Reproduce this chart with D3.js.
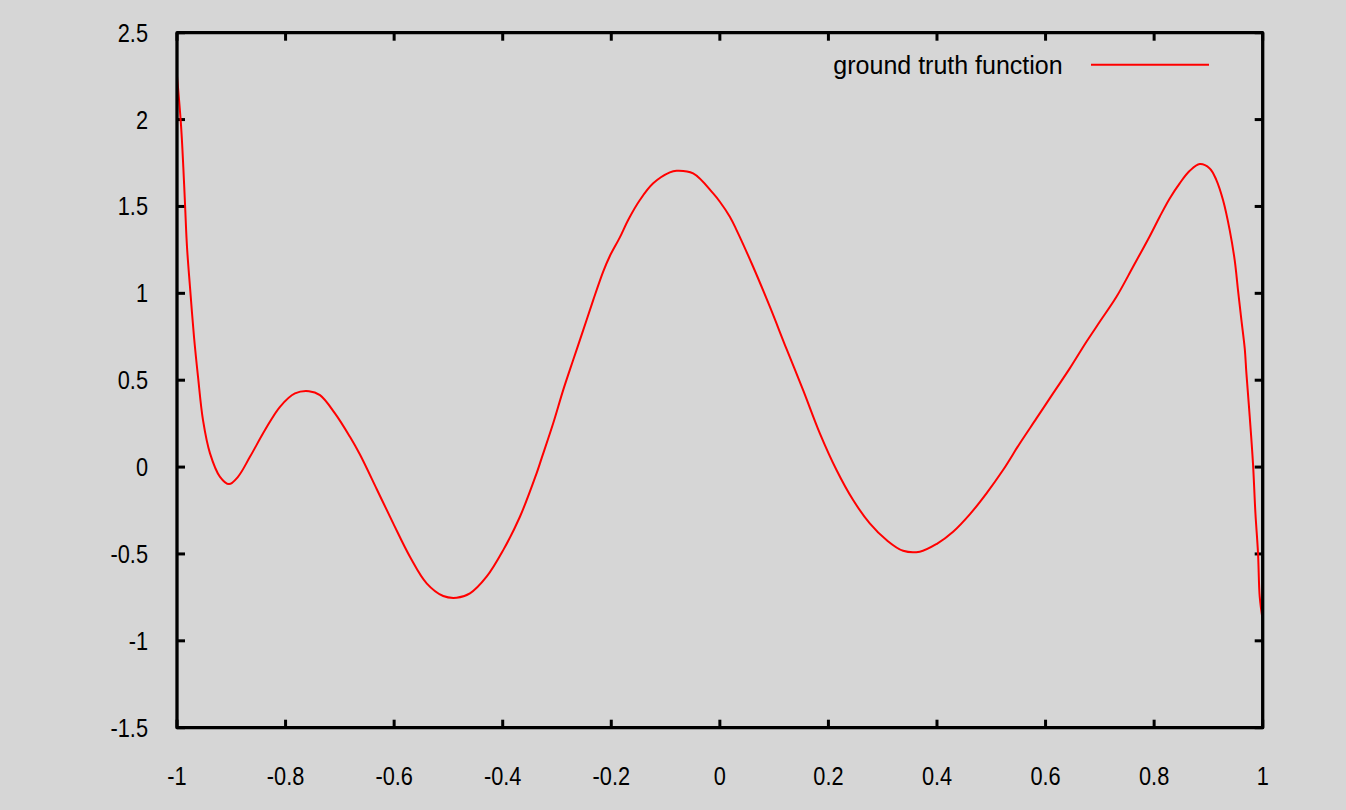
<!DOCTYPE html>
<html>
<head>
<meta charset="utf-8">
<script src="https://cdn.jsdelivr.net/npm/d3@7"></script>
<style>
  html, body { margin: 0; padding: 0; background: #d6d6d6; }
  svg { display: block; }
  text { font-family: "Liberation Sans", Arial, sans-serif; fill: #000; }
</style>
</head>
<body>
<svg id="chart" width="1346" height="810"></svg>
<script>
// ---- data ----
const xValues = [
  -1.0, -0.9926, -0.9884, -0.9853, -0.9816, -0.9761, -0.9687, -0.9613, -0.9521, -0.9392,
  -0.9208, -0.9042, -0.8877, -0.8656, -0.8379, -0.8103, -0.7827, -0.7569, -0.7366, -0.7090,
  -0.6814, -0.6630, -0.6322, -0.6017, -0.5709, -0.5401, -0.5096, -0.4849, -0.4604, -0.4297,
  -0.3991, -0.3683, -0.3376, -0.3284, -0.3070, -0.2886, -0.2702, -0.2517, -0.2333, -0.2149,
  -0.2026, -0.1842, -0.1689, -0.1473, -0.1228, -0.0921, -0.0797, -0.0492, -0.0123, 0.0,
  0.0184, 0.0308, 0.0613, 0.0921, 0.1228, 0.1534, 0.1842, 0.2149, 0.2455, 0.2762,
  0.3070, 0.3376, 0.3683, 0.3991, 0.4297, 0.4604, 0.4912, 0.5217, 0.5525, 0.5832,
  0.6138, 0.6446, 0.6753, 0.6998, 0.7306, 0.7612, 0.7919, 0.8103, 0.8287, 0.8471,
  0.8656, 0.8840, 0.9024, 0.9147, 0.9269, 0.9392, 0.9484, 0.9545, 0.9608, 0.9669,
  0.9700, 0.9761, 0.9821, 0.9866, 0.9914, 0.9945, 1.0
];
const yValues = [
  2.25, 1.968, 1.728, 1.518, 1.268, 1.038, 0.750, 0.520, 0.270, 0.079,
  -0.056, -0.098, -0.056, 0.059, 0.213, 0.347, 0.424, 0.437, 0.414, 0.309,
  0.174, 0.072, -0.126, -0.324, -0.516, -0.669, -0.742, -0.752, -0.727, -0.631,
  -0.478, -0.286, -0.036, 0.050, 0.252, 0.443, 0.616, 0.788, 0.961, 1.125,
  1.215, 1.322, 1.422, 1.537, 1.633, 1.696, 1.705, 1.690, 1.575, 1.527,
  1.441, 1.364, 1.153, 0.923, 0.680, 0.443, 0.194, -0.017, -0.190, -0.324,
  -0.420, -0.482, -0.487, -0.443, -0.372, -0.272, -0.151, -0.017, 0.136, 0.280,
  0.424, 0.568, 0.721, 0.836, 0.980, 1.153, 1.329, 1.441, 1.546, 1.633,
  1.705, 1.744, 1.719, 1.652, 1.537, 1.364, 1.191, 1.019, 0.846, 0.683,
  0.539, 0.290, 0.021, -0.266, -0.497, -0.746, -0.881
];
const xTicks = [-1, -0.8, -0.6, -0.4, -0.2, 0, 0.2, 0.4, 0.6, 0.8, 1];
const xTickLabels = ["-1", "-0.8", "-0.6", "-0.4", "-0.2", "0", "0.2", "0.4", "0.6", "0.8", "1"];
const yTicks = [-1.5, -1, -0.5, 0, 0.5, 1, 1.5, 2, 2.5];
const yTickLabels = ["-1.5", "-1", "-0.5", "0", "0.5", "1", "1.5", "2", "2.5"];
const seriesName = "ground truth function";

// ---- layout ----
const pLeft = 177, pRight = 1262.7, pTop = 32.7, pBottom = 727.7;
const svg = d3.select("#chart");

const x = d3.scaleLinear().domain([-1, 1]).range([pLeft, pRight]);
const y = d3.scaleLinear().domain([-1.5, 2.5]).range([pBottom, pTop]);

const tickLen = 8;
const lab = 0.87; // horizontal squeeze of tick label glyphs

// ticks (all four sides)
const tg = svg.append("g").attr("stroke", "#000").attr("stroke-width", 3);
xTicks.forEach(t => {
  tg.append("line").attr("x1", x(t)).attr("x2", x(t)).attr("y1", pBottom).attr("y2", pBottom - tickLen);
  tg.append("line").attr("x1", x(t)).attr("x2", x(t)).attr("y1", pTop).attr("y2", pTop + tickLen);
});
yTicks.forEach(t => {
  tg.append("line").attr("y1", y(t)).attr("y2", y(t)).attr("x1", pLeft).attr("x2", pLeft + tickLen);
  tg.append("line").attr("y1", y(t)).attr("y2", y(t)).attr("x1", pRight).attr("x2", pRight - tickLen);
});

// tick labels
xTicks.forEach((t, i) => {
  svg.append("text")
    .attr("transform", `translate(${x(t)},785) scale(${lab},1)`)
    .attr("text-anchor", "middle")
    .style("font-size", "25px")
    .text(xTickLabels[i]);
});
yTicks.forEach((t, i) => {
  svg.append("text")
    .attr("transform", `translate(148,${y(t) + 9}) scale(${lab},1)`)
    .attr("text-anchor", "end")
    .style("font-size", "25px")
    .text(yTickLabels[i]);
});

// curve
const pts = xValues.map((v, i) => [v, yValues[i]]);
const line = d3.line().x(d => x(d[0])).y(d => y(d[1])).curve(d3.curveCatmullRom.alpha(0.5));
svg.append("path")
  .datum(pts)
  .attr("d", line)
  .attr("fill", "none")
  .attr("stroke", "#ff0000")
  .attr("stroke-width", 2)
  .attr("stroke-linejoin", "round");

// border
svg.append("rect")
  .attr("x", pLeft).attr("y", pTop)
  .attr("width", pRight - pLeft).attr("height", pBottom - pTop)
  .attr("fill", "none").attr("stroke", "#000").attr("stroke-width", 3.3)
  .attr("stroke-linejoin", "round");

// legend
svg.append("text")
  .attr("x", 1062.7).attr("y", 73.5)
  .attr("text-anchor", "end")
  .style("font-size", "25px")
  .text(seriesName);
svg.append("line")
  .attr("x1", 1091).attr("x2", 1209).attr("y1", 64.7).attr("y2", 64.7)
  .attr("stroke", "#ff0000").attr("stroke-width", 2);
</script>
</body>
</html>
